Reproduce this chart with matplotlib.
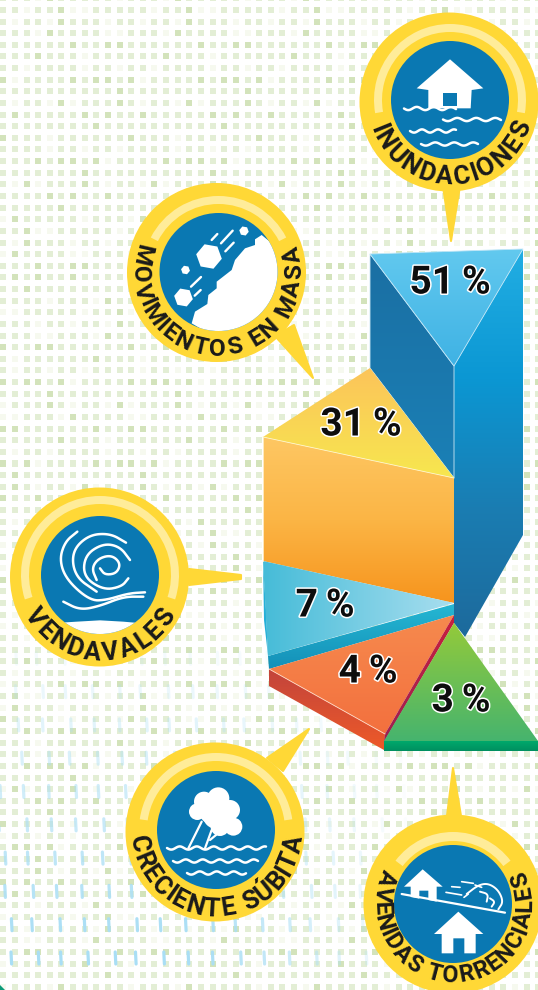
import numpy as np
import matplotlib
matplotlib.use('Agg')
import matplotlib.pyplot as plt
import matplotlib.patheffects as pe
from matplotlib.colors import LinearSegmentedColormap
from matplotlib.font_manager import FontProperties
from matplotlib.patches import Circle, Polygon, Wedge
from matplotlib.textpath import TextPath

# data
categories = ['INUNDACIONES', 'MOVIMIENTOS EN MASA', 'VENDAVALES', 'CRECIENTE SÚBITA', 'AVENIDAS TORRENCIALES']
percents = [51, 31, 7, 4, 3]
pct_pos = [(450, 283), (361, 425), (325, 606), (368, 672), (461, 701)]

YELLOW = '#ffd836'
RING = '#ffec99'
BLUE = '#0a78b2'
INK = '#1a1a1a'

# tile shades read from the top left corner, n normal, d dark, l light
tile_rows = ['nnnldnnnnnl', 'nnlnndllnnn', 'nlnnldnnnln', 'nnnldnnnnll',
             'nnnnnndnndd', 'nnndnnnlnnn', 'nnlnnnnlnnl', 'dlnnnndnddn',
             'nnnnnnnnnnd', 'nlnnldlnnnd', 'ndnnnnndndn', 'nnnnnnnndnn']
tile_col = {'n': '#e3eed5', 'd': '#d3e3bb', 'l': '#f6f9ef'}
# small sideways shifts of the rain drops, repeats along a row
drop_shift = [0, 2, -1, 1, 3, -2, 1, 0, -1, 2, 0]

fig = plt.figure(figsize=(5.38, 9.9), dpi=100)
ax = fig.add_axes([0, 0, 1, 1])
ax.set_axis_off()


def z(pts, ox, oy):
    # zoom crop coords to picture coords
    return [(ox + p[0] / 3, oy + p[1] / 3) for p in pts]


def smooth(pts, n=4):
    pts = np.array(pts, float)
    for i in range(n):
        q = 0.75 * pts[:-1] + 0.25 * pts[1:]
        r = 0.25 * pts[:-1] + 0.75 * pts[1:]
        new = np.empty((len(q) * 2, 2))
        new[0::2] = q
        new[1::2] = r
        pts = np.vstack([pts[0], new, pts[-1]])
    return pts


def grad(pts, stops, vertical=True, zorder=5, edge=None):
    pts = np.array(pts, float)
    x0, y0 = pts.min(axis=0)
    x1, y1 = pts.max(axis=0)
    g = np.linspace(0, 1, 256)
    g = g.reshape(-1, 1) if vertical else g.reshape(1, -1)
    cmap = LinearSegmentedColormap.from_list('g', stops)
    im = ax.imshow(g, cmap=cmap, extent=(x0, x1, y1, y0), origin='upper', aspect='auto',
                   interpolation='bilinear', zorder=zorder)
    im.set_clip_path(Polygon(pts, closed=True, transform=ax.transData))
    if edge:
        ax.add_patch(Polygon(pts, closed=True, fill=False, ec=edge, lw=0.6, zorder=zorder + 0.1))


def arc_label(text, cx, cy, r, th, size=18.5):
    fp = FontProperties(family=['Liberation Sans Narrow', 'Roboto'], weight='bold', size=size)
    cap = size * 0.72 * 100 / 72
    w = []
    for ch in text:
        if ch == ' ':
            w.append(size * 0.3)
        elif ch in 'AV':
            # triangular letters sit closer together
            w.append(TextPath((0, 0), ch, prop=fp).get_extents().width * 0.85 + size * 0.1)
        else:
            w.append(TextPath((0, 0), ch, prop=fp).get_extents().width + size * 0.1)
    w = np.array(w)
    mids = np.cumsum(w) - w / 2
    ang = -th + 2 * th * (mids - mids[0]) / (mids[-1] - mids[0])
    rb = r + cap / 2
    for ch, a in zip(text, ang):
        t = np.radians(a)
        ax.text(cx + rb * np.sin(t), cy + rb * np.cos(t), ch, fontproperties=fp, color=INK,
                rotation=a, rotation_mode='anchor', ha='center', va='baseline', zorder=24)


def badge(cx, cy, ix, iy, ring_span, pointer, ring=(68, 76)):
    ax.add_patch(Polygon(pointer, closed=True, fc=YELLOW, ec=YELLOW, lw=1.5, joinstyle='round', zorder=20))
    ax.add_patch(Circle((cx, cy), 89.5, fc=YELLOW, ec='none', zorder=20))
    # angles flip because the y axis points down
    ax.add_patch(Wedge((ix, iy), ring[1], 270 - ring_span, 270 + ring_span, width=ring[1] - ring[0],
                       fc=RING, ec='none', zorder=21))
    inner = Circle((ix, iy), 59, fc=BLUE, ec='none', zorder=22)
    ax.add_patch(inner)
    return inner


def white_poly(pts, clip=None):
    p = Polygon(pts, closed=True, fc='white', ec='none', zorder=23)
    ax.add_patch(p)
    if clip is not None:
        p.set_clip_path(clip)


def white_line(pts, lw=1.5, clip=None):
    pts = np.array(pts, float)
    l, = ax.plot(pts[:, 0], pts[:, 1], color='white', lw=lw, solid_capstyle='round', zorder=23)
    if clip is not None:
        l.set_clip_path(clip)


def wave(x0, x1, y, amp=1.6, period=20, lw=1.8):
    xs = np.linspace(x0, x1, 80)
    white_line(np.column_stack([xs, y + amp * np.sin((xs - x0) / period * 2 * np.pi)]), lw=lw)


def hexagon(x, y, r):
    a = np.radians(np.arange(6) * 60 + 10)
    white_poly(np.column_stack([x + r * np.cos(a), y + r * np.sin(a)]))


# background tiles
pitch = 11.63
tx, ty, tc = [], [], []
for j in range(87):
    for i in range(47):
        tx.append(3.3 + pitch * i)
        ty.append(-1.7 + pitch * j)
        tc.append(tile_col[tile_rows[(j + 5 * (j // 12)) % 12][(i + 3 * (j // 12)) % 11]])
ax.scatter(tx, ty, s=18.7, marker='s', c=tc, linewidths=0, zorder=1)

# rain drops, fading upwards and to the right
for j in range(12):
    y0 = 958 - 33.3 * j
    for i in range(24):
        x0 = 11 + 25.3 * i - 2.6 * j + drop_shift[(i + 4 * j) % 11]
        alpha = np.clip((y0 - 620) / 320, 0, 1) * np.clip((420 - x0) / 220, 0, 1)
        if alpha > 0.03:
            ax.plot([x0, x0 + 0.6], [y0 - 6, y0 + 6], color='#a9def5', lw=2.3, alpha=alpha,
                    solid_capstyle='round', zorder=2)
ax.add_patch(Polygon([(0, 985), (5, 990), (0, 990)], closed=True, fc='#0a9a78', ec='none', zorder=2))

# column, faces
grad([(370, 254), (454, 366), (454, 478), (370, 368)], ['#1b6fa3', '#1a80b6'], zorder=5, edge='#cfe9f5')
grad([(523, 249), (454, 366), (454, 623), (465, 637), (523, 535)],
     ['#22aee3', '#0b97d3', '#1a7db2', '#1d6a9c'], zorder=5)
grad([(370, 254), (523, 249), (454, 366)], ['#62c9ef', '#3fb2e4'], zorder=6, edge='#bfe6f7')
grad([(370, 368), (263, 437), (454, 478)], ['#fcc45a', '#f7e74f'], zorder=6)
grad([(263, 437), (454, 478), (454, 603), (263, 561)], ['#fec763', '#fbb545', '#f7941d'], zorder=6)
grad([(263, 561), (454, 603), (268, 656)], ['#46bcd8', '#a8deef'], vertical=False, zorder=7)
grad([(268, 656), (454, 604), (454, 615), (269, 669)], ['#25b7d3', '#1490b8'], zorder=6)
ax.add_patch(Polygon([(263, 561), (264, 620), (268, 656), (266, 610)], closed=True, fc='#25b0d8', ec='none', zorder=6))
grad([(269, 669), (454, 615), (385, 734)], ['#f68a4e', '#f3703e'], zorder=7)
grad([(269, 669), (385, 734), (384, 750), (269, 686)], ['#c2443c', '#ee5a28'], zorder=6)
grad([(454, 615), (454, 623), (384, 742), (385, 734)], ['#c8203e', '#9c1f52'], zorder=7)
grad([(454, 623), (538, 741), (384, 741)], ['#94ca3a', '#46b46e'], zorder=7)
grad([(384, 741), (538, 741), (538, 751), (384, 751)], ['#00a96b', '#008f60'], zorder=7)
ax.plot([263, 263], [437, 561], color='#fff3d0', lw=0.6, zorder=8)
ax.plot([263, 454], [437, 478], color='#fff7c8', lw=0.6, zorder=8)
ax.plot([269, 385], [669, 734], color='#ffd9c6', lw=0.6, zorder=8)

# percent labels
for pct, (px, py) in zip(percents, pct_pos):
    ax.text(px, py, f'{pct}\u2009%', family='Roboto', weight='bold', fontsize=28, color='#0d0d0d',
            ha='center', va='center', zorder=30,
            path_effects=[pe.withStroke(linewidth=2.2, foreground='white')])

# inundaciones
badge(449, 102, 450, 100, 100, [(443, 186), (460, 186), (451, 241)])
white_poly(z([(300, 178), (400, 265), (365, 270), (362, 325), (235, 325), (235, 270), (200, 265)], 350, 0))
ax.add_patch(Polygon(z([(280, 278), (322, 278), (322, 318), (280, 318)], 350, 0), closed=True, fc=BLUE, ec='none', zorder=23.5))
wave(404, 456, 108.5, period=17)
wave(443, 501, 119.5, period=19)
wave(410, 456, 131, period=16)
wave(421, 478, 144, period=19)

# movimientos en masa
clip = badge(216.5, 272.5, 218.5, 272, 63, [(275, 336), (294, 325), (313, 378)])
white_poly(z([(215, 430), (225, 395), (262, 372), (265, 345), (290, 325), (290, 305), (335, 270), (345, 240),
              (375, 205), (405, 195), (405, 178), (425, 165), (480, 210), (490, 400), (300, 480)], 120, 180), clip)
hexagon(209, 256.5, 13)
hexagon(183.5, 297.5, 9.5)
hexagon(185.5, 270, 4.5)
hexagon(244, 231, 4.8)
for seg in [[(275, 180), (292, 162)], [(303, 190), (338, 152)], [(316, 214), (341, 188)],
            [(213, 320), (243, 291)], [(224, 347), (242, 330)]]:
    white_line(z(seg, 120, 180), lw=1.7)

# vendavales
clip = badge(99.5, 577, 100, 575, 108, [(189, 569), (241, 575), (241, 579), (189, 585)], ring=(71, 79))
white_poly(z([(150, 430), (230, 425), (300, 421), (370, 425), (450, 432), (450, 480), (150, 480)], 0, 480), clip)
swirl = [
    [(232, 155), (195, 185), (178, 240), (200, 300), (270, 362), (320, 360), (385, 340), (435, 337)],
    [(378, 188), (330, 160), (265, 165), (215, 215), (225, 290), (290, 335)],
    [(390, 240), (360, 200), (310, 190), (255, 225), (250, 290), (310, 330), (365, 320), (385, 295)],
    [(300, 265), (315, 285), (350, 280), (362, 250), (335, 225), (295, 235), (275, 265), (290, 300)],
    [(190, 365), (240, 390), (300, 378), (370, 350), (430, 350)],
]
for pts in swirl:
    white_line(smooth(z(pts, 0, 480)), lw=1.8)

# creciente subita
badge(215, 832, 216, 830, 82, [(267, 758), (309, 729), (283, 771)], ring=(69, 77))
for cc in [(252, 215, 30), (295, 205, 33), (330, 240, 30), (232, 245, 25), (340, 290, 27), (300, 290, 28), (270, 250, 30), (290, 255, 42)]:
    ax.add_patch(Circle((120 + cc[0] / 3, 730 + cc[1] / 3), cc[2] / 3, fc='white', ec='none', zorder=23))
for seg in [[(205, 355), (245, 275)], [(255, 355), (275, 300)], [(270, 330), (300, 305)]]:
    white_line(z(seg, 120, 730), lw=1.6)
wave(167, 266, 848, period=17)
wave(173, 258, 861, period=17)
wave(187, 246, 873, period=17)

# avenidas torrenciales
badge(453, 904, 453, 904, 53, [(447, 816), (453, 768), (461, 816)], ring=(63, 72))
white_poly(z([(188, 298), (248, 350), (230, 350), (230, 395), (205, 390), (205, 362), (178, 362), (178, 386),
              (152, 381), (152, 350), (132, 350)], 360, 770))
white_poly(z([(295, 425), (370, 492), (347, 492), (347, 550), (313, 550), (313, 505), (280, 505), (280, 550),
              (245, 550), (245, 492), (222, 492)], 360, 770))
white_line(z([(125, 372), (435, 428)], 360, 770), lw=1.6)
debris = [[(320, 372), (355, 345), (385, 340), (415, 360), (430, 395), (415, 418)],
          [(360, 365), (385, 372), (380, 395)], [(390, 385), (405, 395), (395, 410)]]
for pts in debris:
    white_line(smooth(z(pts, 360, 770)), lw=1.4)
for seg in [[(305, 335), (340, 340)], [(275, 350), (300, 352)], [(258, 367), (305, 375)], [(345, 345), (365, 352)], [(312, 382), (325, 372)]]:
    white_line(z(seg, 360, 770), lw=1.2)

# curved names
arc_label(categories[0], 450, 100, 75, 68)
arc_label(categories[1], 217, 272, 75, 103, size=17.5)
arc_label(categories[2], 100, 575, 76, 57)
arc_label(categories[3], 216, 830, 77, 80)
arc_label(categories[4], 453, 904, 70, 111, size=17)

ax.set_xlim(0, 538)
ax.set_ylim(990, 0)
fig.savefig('out.png', dpi=100, facecolor='white')
